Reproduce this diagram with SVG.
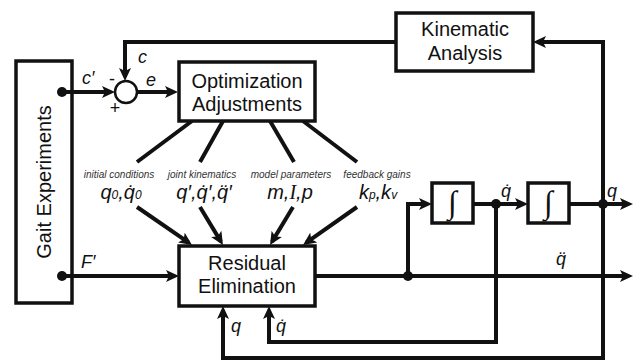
<svg xmlns="http://www.w3.org/2000/svg" width="634" height="360" viewBox="0 0 634 360">
<defs>
<marker id="ah" markerUnits="userSpaceOnUse" markerWidth="16" markerHeight="12" refX="9" refY="6" orient="auto">
<path d="M0,0 L13,6 L0,12 L3,6 Z" fill="#111"/>
</marker>
<style>
.box{fill:#fff;stroke:#111;stroke-width:3.5}
.ln{fill:none;stroke:#111;stroke-width:4}
.arr{fill:none;stroke:#111;stroke-width:4;marker-end:url(#ah)}
.dot{fill:#111}
.bt{font-family:"Liberation Sans",Arial,sans-serif;font-size:20px;fill:#111;text-anchor:middle}
.sm{font-family:"Liberation Sans",Arial,sans-serif;font-size:10px;font-style:italic;fill:#333;text-anchor:middle}
.mt{font-family:"Liberation Sans",Arial,sans-serif;font-size:20px;font-style:italic;fill:#111;text-anchor:middle}
.lb{font-family:"Liberation Sans",Arial,sans-serif;font-size:18px;font-style:italic;fill:#111}
.sub{font-size:12px}
.ser{font-family:"Liberation Serif","Times New Roman",serif}
.int{font-family:"Liberation Serif","Times New Roman",serif;font-size:32px;fill:#111;text-anchor:middle}
</style>
</defs>
<g id="gait">
<rect class="box" x="16" y="61" width="56" height="242"/>
<text class="bt" transform="translate(51,182) rotate(-90)">Gait Experiments</text>
</g>
<g id="connectors">
<path class="arr" d="M62,92 L111,92"/>
<path class="arr" d="M396,42 L125,42 L125,77"/>
<path class="arr" d="M137,92 L174,92"/>
<path class="arr" d="M62,276 L175,276"/>
<path class="ln" d="M192,121 L137,162"/>
<path class="ln" d="M223,121 L200,162"/>
<path class="ln" d="M270,121 L294,162"/>
<path class="ln" d="M303,121 L357,162"/>
<path class="arr" d="M137,207 L188.7,242.7"/>
<path class="arr" d="M200,207 L220.9,241.6"/>
<path class="arr" d="M293,207 L272.1,241.6"/>
<path class="arr" d="M357,207 L306.3,242.7"/>
<path class="arr" d="M315,276 L629,276"/>
<path class="arr" d="M408,276 L408,204 L428,204"/>
<path class="arr" d="M473,204 L524,204"/>
<path class="arr" d="M569,204 L629,204"/>
<path class="arr" d="M603,204 L603,42 L537,42"/>
<path class="arr" d="M603,204 L603,358 L223,358 L223,310"/>
<path class="arr" d="M496,204 L496,342 L269,342 L269,310"/>
<circle class="dot" cx="62" cy="92" r="5"/>
<circle class="dot" cx="62" cy="276" r="5"/>
<circle class="dot" cx="408" cy="276" r="5"/>
<circle class="dot" cx="496" cy="204" r="5"/>
<circle class="dot" cx="603" cy="204" r="5"/>
</g>
<g id="sum">
<circle cx="126" cy="92" r="11" fill="#fff" stroke="#111" stroke-width="2.5"/>
<text class="bt" x="112" y="85" style="font-size:18px">-</text>
<text class="bt" x="115" y="114" style="font-size:18px">+</text>
</g>
<g id="optimization">
<rect class="box" x="179" y="62" width="136" height="59"/>
<text class="bt" x="247" y="88">Optimization</text>
<text class="bt" x="247" y="111">Adjustments</text>
</g>
<g id="kinematic">
<rect class="box" x="396" y="13" width="137" height="58"/>
<text class="bt" x="465" y="36">Kinematic</text>
<text class="bt" x="465" y="60">Analysis</text>
</g>
<g id="residual">
<rect class="box" x="179" y="246" width="136" height="60"/>
<text class="bt" x="247" y="270">Residual</text>
<text class="bt" x="247" y="293">Elimination</text>
</g>
<g id="int1">
<rect class="box" x="432" y="183" width="41" height="40"/>
<text class="int" x="452.5" y="213">∫</text>
</g>
<g id="int2">
<rect class="box" x="528" y="183" width="41" height="40"/>
<text class="int" x="548.5" y="213">∫</text>
</g>
<g id="labels">
<text class="sm" x="119" y="178">initial conditions</text>
<text class="sm" x="202" y="178">joint kinematics</text>
<text class="sm" x="291" y="178">model parameters</text>
<text class="sm" x="377" y="178">feedback gains</text>
<text class="mt" x="121" y="199">q<tspan class="sub">0</tspan>,q̇<tspan class="sub">0</tspan></text>
<text class="mt" x="204" y="199">q′,q̇′,q̈′</text>
<text class="mt" x="290" y="199">m,<tspan class="ser">I</tspan>,p</text>
<text class="mt" x="378" y="199">k<tspan class="sub">p</tspan>,k<tspan class="sub">v</tspan></text>
<text class="lb" x="82" y="84">c′</text>
<text class="lb" x="138" y="63">c</text>
<text class="lb" x="146" y="86">e</text>
<text class="lb" x="81" y="268">F′</text>
<text class="lb" x="501" y="197">q̇</text>
<text class="lb" x="607" y="197">q</text>
<text class="lb" x="556" y="265">q̈</text>
<text class="lb" x="231" y="332">q</text>
<text class="lb" x="276" y="332">q̇</text>
</g>
</svg>
